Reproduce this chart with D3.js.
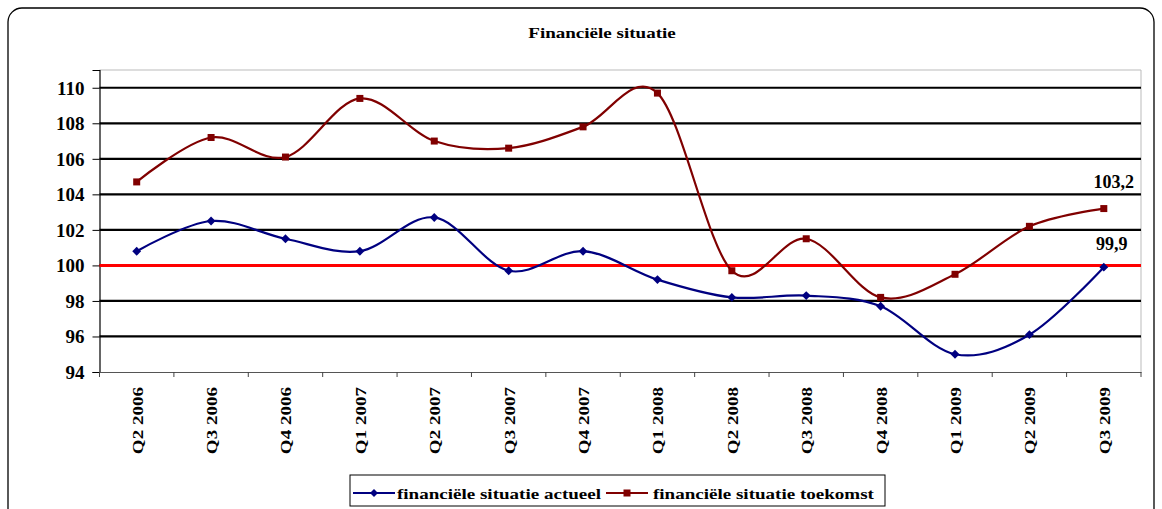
<!DOCTYPE html>
<html>
<head>
<meta charset="utf-8">
<script src="https://cdn.jsdelivr.net/npm/d3@7"></script>
<style>
  body { margin: 0; background: #fff; }
  svg text { font-family: "Liberation Serif", "Times New Roman", Times, "DejaVu Serif", serif; font-weight: bold; }
</style>
</head>
<body>
<div id="chart"></div>
<script>
// data
const quarters = ['Q2 2006', 'Q3 2006', 'Q4 2006', 'Q1 2007', 'Q2 2007', 'Q3 2007', 'Q4 2007',
  'Q1 2008', 'Q2 2008', 'Q3 2008', 'Q4 2008', 'Q1 2009', 'Q2 2009', 'Q3 2009'];
const actueel = [100.8, 102.5, 101.5, 100.8, 102.7, 99.7, 100.8, 99.2, 98.2, 98.3, 97.7, 95.0, 96.1, 99.9];
const toekomst = [104.7, 107.2, 106.1, 109.4, 107.0, 106.6, 107.8, 109.7, 99.7, 101.5, 98.2, 99.5, 102.2, 103.2];
const yTicks = [94, 96, 98, 100, 102, 104, 106, 108, 110];
const seriesNames = ['financiële situatie actueel', 'financiële situatie toekomst'];
const refValue = 100;

const width = 1162;
const height = 509;
const plotLeft = 99.5, plotRight = 1141, plotTop = 70, plotBottom = 372;
const stretch = 1.27; // excel's fonts run wide along the baseline

const svg = d3.select('#chart')
  .append('svg')
  .attr('width', width)
  .attr('height', height);

// outer frame
svg.append('rect')
  .attr('x', 8).attr('y', 8)
  .attr('width', 1146).attr('height', 520)
  .attr('rx', 14)
  .attr('fill', '#fff')
  .attr('stroke', '#000')
  .attr('stroke-width', 1.3);

svg.append('text')
  .attr('transform', `translate(602,38) scale(${stretch},1)`)
  .attr('text-anchor', 'middle')
  .attr('font-size', 15)
  .text('Financiële situatie');

const x = d3.scaleBand().domain(quarters).range([plotLeft, plotRight]);
const y = d3.scaleLinear().domain([94, 111]).range([plotBottom, plotTop]);

// plot border (light gray top/right)
svg.append('path')
  .attr('d', `M${plotLeft},${plotTop}H${plotRight}V${plotBottom}`)
  .attr('fill', 'none')
  .attr('stroke', '#bbb')
  .attr('stroke-width', 1);

// gridlines
svg.append('g')
  .selectAll('line')
  .data(yTicks.filter(d => d > 94))
  .join('line')
  .attr('x1', plotLeft).attr('x2', plotRight)
  .attr('y1', d => y(d)).attr('y2', d => y(d))
  .attr('stroke', '#000')
  .attr('stroke-width', 2.2);

// y axis
const yAxis = svg.append('g')
  .attr('transform', `translate(${plotLeft},0)`)
  .call(d3.axisLeft(y).tickValues(yTicks).tickSize(7).tickPadding(8));
yAxis.attr('font-size', 19);
yAxis.select('.domain').attr('stroke', '#000').attr('stroke-width', 1.2);
yAxis.selectAll('.tick line').attr('stroke', '#000');
yAxis.selectAll('text')
  .attr('fill', '#000')
  .attr('dy', '0.34em');

// x axis
const xAxis = svg.append('g')
  .attr('transform', `translate(0,${plotBottom})`)
  .call(d3.axisBottom(x).tickSize(0).tickFormat(''));
xAxis.select('.domain').attr('stroke', '#555').attr('stroke-width', 1.2);

svg.append('g')
  .selectAll('line')
  .data(d3.range(quarters.length + 1))
  .join('line')
  .attr('x1', i => plotLeft + i * x.step()).attr('x2', i => plotLeft + i * x.step())
  .attr('y1', plotBottom).attr('y2', plotBottom + 5)
  .attr('stroke', '#444');

svg.append('g')
  .selectAll('text')
  .data(quarters)
  .join('text')
  .attr('transform', d => `translate(${x(d) + x.bandwidth() / 2 + 6},${plotBottom + 15}) rotate(-90) scale(${stretch},1)`)
  .attr('text-anchor', 'end')
  .attr('font-size', 15)
  .text(d => d);

// reference line at 100
svg.append('line')
  .attr('x1', plotLeft).attr('x2', plotRight)
  .attr('y1', y(refValue)).attr('y2', y(refValue))
  .attr('stroke', '#ff0000')
  .attr('stroke-width', 3);

const cx = i => x(quarters[i]) + x.bandwidth() / 2;
const line = d3.line()
  .x((d, i) => cx(i))
  .y(d => y(d))
  .curve(d3.curveCatmullRom.alpha(0));

svg.append('path')
  .datum(actueel)
  .attr('d', line)
  .attr('fill', 'none')
  .attr('stroke', '#000080')
  .attr('stroke-width', 2.2);

svg.append('path')
  .datum(toekomst)
  .attr('d', line)
  .attr('fill', 'none')
  .attr('stroke', '#800000')
  .attr('stroke-width', 2.2);

svg.append('g')
  .selectAll('path')
  .data(actueel)
  .join('path')
  .attr('transform', (d, i) => `translate(${cx(i)},${y(d)})`)
  .attr('d', d3.symbol(d3.symbolDiamond2, 50))
  .attr('fill', '#000080');

svg.append('g')
  .selectAll('rect')
  .data(toekomst)
  .join('rect')
  .attr('x', (d, i) => cx(i) - 3.5)
  .attr('y', d => y(d) - 3.5)
  .attr('width', 7).attr('height', 7)
  .attr('fill', '#800000');

// end labels
const last = quarters.length - 1;
svg.append('text')
  .attr('x', cx(last) + 10).attr('y', y(toekomst[last]) - 21)
  .attr('text-anchor', 'middle')
  .attr('font-size', 18)
  .text(d3.format('.1f')(toekomst[last]).replace('.', ','));
svg.append('text')
  .attr('x', cx(last) + 8).attr('y', y(actueel[last]) - 17)
  .attr('text-anchor', 'middle')
  .attr('font-size', 18)
  .text(d3.format('.1f')(actueel[last]).replace('.', ','));

// legend
const legend = svg.append('g').attr('transform', 'translate(350,475)');
legend.append('rect')
  .attr('width', 535).attr('height', 31)
  .attr('fill', '#fff')
  .attr('stroke', '#000')
  .attr('stroke-width', 1);

const legendItems = [
  { name: seriesNames[0], color: '#000080', x: 3 },
  { name: seriesNames[1], color: '#800000', x: 256 }
];
legendItems.forEach((it, k) => {
  const g = legend.append('g').attr('transform', `translate(${it.x},18)`);
  g.append('line').attr('x1', 0).attr('x2', 42).attr('stroke', it.color).attr('stroke-width', 2.2);
  if (k === 0) {
    g.append('path').attr('transform', 'translate(21,0)')
      .attr('d', d3.symbol(d3.symbolDiamond2, 40)).attr('fill', it.color);
  } else {
    g.append('rect').attr('x', 17.5).attr('y', -3.5).attr('width', 7).attr('height', 7).attr('fill', it.color);
  }
  g.append('text')
    .attr('transform', `translate(${k === 0 ? 44 : 47},6) scale(${stretch},1)`)
    .attr('font-size', 15)
    .text(it.name);
});
</script>
</body>
</html>
